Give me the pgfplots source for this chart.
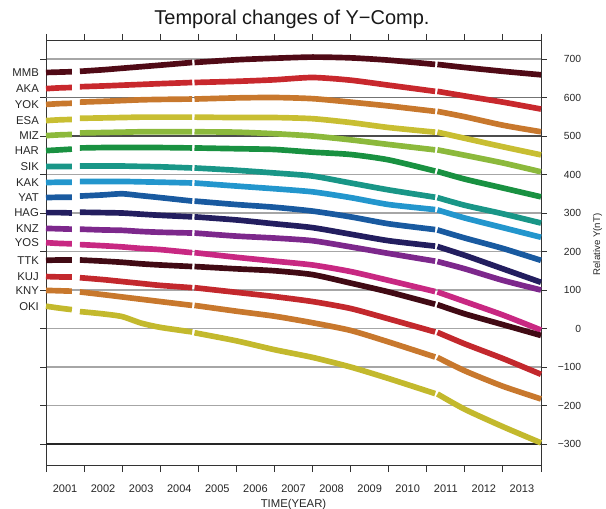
\documentclass[border=0pt]{standalone}
\usepackage{pgfplots}
\usepackage{pgfplotstable}
\pgfplotsset{compat=1.18}
\usepackage{fontspec}
\setmainfont{Liberation Sans}

\definecolor{cMMB}{RGB}{80,10,22}
\definecolor{cAKA}{RGB}{200,40,45}
\definecolor{cYOK}{RGB}{200,120,45}
\definecolor{cESA}{RGB}{200,190,50}
\definecolor{cMIZ}{RGB}{140,185,60}
\definecolor{cHAR}{RGB}{25,145,65}
\definecolor{cSIK}{RGB}{25,150,135}
\definecolor{cKAK}{RGB}{35,150,205}
\definecolor{cYAT}{RGB}{25,90,160}
\definecolor{cHAG}{RGB}{35,30,95}
\definecolor{cKNZ}{RGB}{125,40,140}
\definecolor{cYOS}{RGB}{200,40,130}
\definecolor{cTTK}{RGB}{65,10,20}
\definecolor{cKUJ}{RGB}{195,40,45}
\definecolor{cKNY}{RGB}{200,120,45}
\definecolor{cOKI}{RGB}{195,185,45}

\pgfplotstableread{
t MMB AKA YOK ESA MIZ HAR SIK KAK YAT HAG KNZ YOS TTK KUJ KNY OKI
2001.00 665 623 582 540 501 462 421 379 340 301 260 223 177 135 99 58
2001.35 666 625 584 542 503 464 421 380 341 301 259 221 178 134 98 53
2001.68 667 626 585 543 504 466 421 380 341 300 258 220 178 134 97 49
2001.78 nan nan nan nan nan nan nan nan nan nan nan nan nan nan nan nan
2001.89 668 628 588 546 508 469 422 382 344 302 258 218 178 132 95 44
2002.50 672 630 590 547 509 470 422 382 347 301 256 215 175 127 88 38
2003.00 676 632 592 548 510 470 422 382 350 300 255 212 172 122 82 31
2003.50 680 634 594 549 511 470 421 381 345 297 252 208 168 117 76 14
2004.00 684 636 595 549 511 470 420 380 340 294 250 205 165 112 70 3
2004.84 691 639 596 549 511 469 417 378 331 290 248 197 161 106 60 -9
2004.87 nan nan nan nan nan nan nan nan nan nan nan nan nan nan nan nan
2004.90 691 639 596 549 511 469 417 378 331 290 248 197 161 106 60 -11
2006.00 698 642 599 548 510 467 411 370 322 282 240 185 155 94 45 -32
2007.00 702 646 600 548 506 465 404 363 315 272 235 175 150 83 32 -55
2008.00 705 652 597 545 500 458 396 355 305 262 228 165 140 70 15 -75
2009.00 703 645 588 535 490 452 378 340 290 245 212 148 118 52 -5 -100
2010.00 697 632 578 522 478 438 360 322 272 228 195 125 95 25 -35 -130
2011.22 686 616 564 510 464 409 341 309 257 214 175 96 63 -9 -74 -169
2011.25 nan nan nan nan nan nan nan nan nan nan nan nan nan nan nan nan
2011.28 686 616 564 510 464 408 340 308 256 213 174 95 62 -10 -75 -170
2012.00 678 604 550 494 450 388 320 287 235 190 155 70 38 -40 -110 -210
2013.00 668 588 528 472 430 365 298 262 208 155 125 35 10 -78 -150 -255
2014.00 659 570 511 451 407 342 274 237 177 120 100 -4 -18 -119 -183 -297
}\datatable

\begin{document}
\begin{tikzpicture}
\begin{axis}[
  scale only axis, width=297pt, height=254.4pt,
  xmin=2001, xmax=2014, ymin=-354.5, ymax=746.8,
  clip=false,
  unbounded coords=jump,
  axis line style={black!80, line width=0.6pt},
  tick align=outside,
  tick style={black!80, line width=0.5pt},
  major tick length=3.5pt,
  minor tick length=4.2pt,
  xtick={2001.5,2002.5,...,2013.5},
  xticklabels={2001,2002,2003,2004,2005,2006,2007,2008,2009,2010,2011,2012,2013},
  major x tick style={draw=none},
  minor xtick={2001,2002,...,2014},
  ytick={-300,-200,...,700},
  yticklabels={−300,−200,−100,0,100,200,300,400,500,600,700},
  yticklabel pos=right,
  ymajorgrids,
  major grid style={black!35, line width=0.7pt},
  tick label style={font=\fontsize{6.2}{7}\selectfont, text=black!85},
  xticklabel style={font=\fontsize{6.6}{8}\selectfont, yshift=-5pt},
  yticklabel style={text width=17pt, align=right},
  every axis plot/.append style={line width=3.4pt, smooth, tension=0.4},
]
\draw[black!70, line width=0.8pt] (axis cs:2001,500) -- (axis cs:2014,500);
\draw[black!55, line width=0.8pt] (axis cs:2001,600) -- (axis cs:2014,600);
\draw[black!85, line width=0.8pt] (axis cs:2001,-300) -- (axis cs:2014,-300);

\addplot[cMMB] table[x=t,y=MMB] {\datatable};
\addplot[cAKA] table[x=t,y=AKA] {\datatable};
\addplot[cYOK] table[x=t,y=YOK] {\datatable};
\addplot[cESA] table[x=t,y=ESA] {\datatable};
\addplot[cMIZ] table[x=t,y=MIZ] {\datatable};
\addplot[cHAR] table[x=t,y=HAR] {\datatable};
\addplot[cSIK] table[x=t,y=SIK] {\datatable};
\addplot[cKAK] table[x=t,y=KAK] {\datatable};
\addplot[cYAT] table[x=t,y=YAT] {\datatable};
\addplot[cHAG] table[x=t,y=HAG] {\datatable};
\addplot[cKNZ] table[x=t,y=KNZ] {\datatable};
\addplot[cYOS] table[x=t,y=YOS] {\datatable};
\addplot[cTTK] table[x=t,y=TTK] {\datatable};
\addplot[cKUJ] table[x=t,y=KUJ] {\datatable};
\addplot[cKNY] table[x=t,y=KNY] {\datatable};
\addplot[cOKI] table[x=t,y=OKI] {\datatable};

\tikzset{stn/.style={anchor=east, inner sep=0.5pt, xshift=-3.6pt, font=\fontsize{6.8}{8}\selectfont, text=black!85}}
\node[stn] at (axis cs:2001,665) {MMB};
\node[stn] at (axis cs:2001,623) {AKA};
\node[stn] at (axis cs:2001,582) {YOK};
\node[stn] at (axis cs:2001,540) {ESA};
\node[stn] at (axis cs:2001,501) {MIZ};
\node[stn] at (axis cs:2001,462) {HAR};
\node[stn] at (axis cs:2001,421) {SIK};
\node[stn] at (axis cs:2001,379) {KAK};
\node[stn] at (axis cs:2001,340) {YAT};
\node[stn] at (axis cs:2001,301) {HAG};
\node[stn] at (axis cs:2001,260) {KNZ};
\node[stn] at (axis cs:2001,223) {YOS};
\node[stn] at (axis cs:2001,177) {TTK};
\node[stn] at (axis cs:2001,135) {KUJ};
\node[stn] at (axis cs:2001,99) {KNY};
\node[stn] at (axis cs:2001,57) {OKI};

\node[font=\fontsize{12}{14}\selectfont, text=black!90] at ([yshift=13.2pt]rel axis cs:0.497,1) {Temporal changes of Y−Comp.};
\node[font=\fontsize{6.8}{8}\selectfont, text=black!85] at ([yshift=-23.5pt]rel axis cs:0.5,0) {TIME(YEAR)};
\node[font=\fontsize{5.8}{7}\selectfont, text=black!85, rotate=90] at ([xshift=34pt]rel axis cs:1,0.52) {Relative Y(nT)};
\end{axis}
\pgfresetboundingbox
\path (-27.6pt,-25.8pt) rectangle (336pt,279pt);
\end{tikzpicture}
\end{document}
